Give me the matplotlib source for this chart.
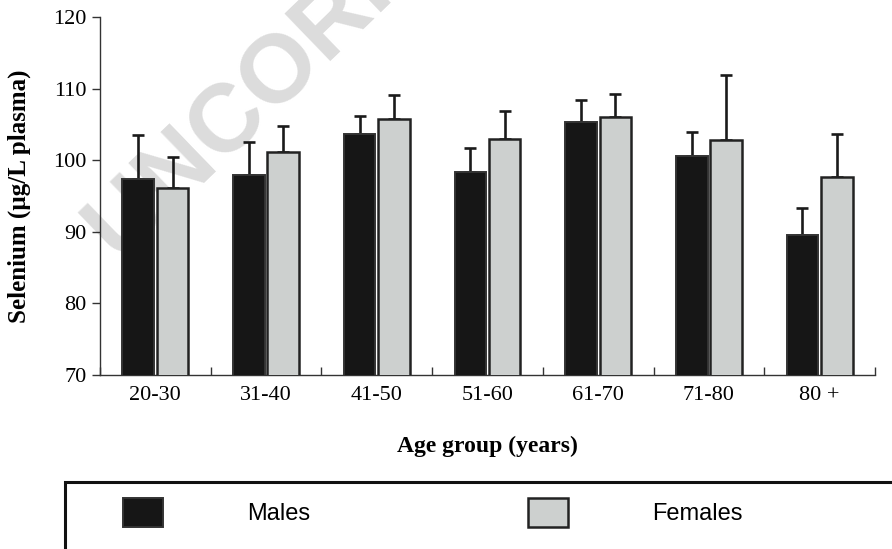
import matplotlib
matplotlib.use("Agg")
import matplotlib.pyplot as plt
import matplotlib.patches as mpatches
import numpy as np

# ---- data ----
age_groups = ["20-30", "31-40", "41-50", "51-60", "61-70", "71-80", "80 +"]
males = [97.4, 98.0, 103.6, 98.3, 105.3, 100.6, 89.5]
males_err = [6.1, 4.5, 2.6, 3.4, 3.1, 3.3, 3.8]
females = [96.1, 101.1, 105.7, 103.0, 106.0, 102.8, 97.6]
females_err = [4.3, 3.7, 3.4, 3.9, 3.2, 9.1, 6.1]
series_labels = ["Males", "Females"]
y_ticks = [70, 80, 90, 100, 110, 120]

W, H = 892, 549
fig = plt.figure(figsize=(W / 100, H / 100), dpi=100)
ax = fig.add_axes([100 / W, 1 - 375 / H, 775 / W, 358 / H])
ax.patch.set_alpha(0)

serif = "Liberation Serif"
sans = "Liberation Sans"

# watermark
fig.text(120 / W, 1 - 264 / H, "UNCORRECTED PROOF", rotation=44,
         rotation_mode="anchor", ha="left", va="baseline",
         fontsize=70, fontweight="bold", family=sans, color="#dcdcdc",
         zorder=-5)

x = np.arange(len(age_groups))
off = 0.155
bw = 0.285
edge = "#222222"
ecol = "#1a1a1a"
b1 = ax.bar(x - off, males, bw, color="#161616", edgecolor="#333333",
            linewidth=1.4, zorder=3, label=series_labels[0])
b2 = ax.bar(x + off, females, bw, color="#cdd0cf", edgecolor=edge,
            linewidth=1.8, zorder=3, label=series_labels[1])
zeros = [0] * len(x)
ax.errorbar(x - off, males, yerr=[zeros, males_err], fmt="none", ecolor=ecol,
            elinewidth=1.9, capsize=4.3, capthick=1.9, zorder=2)
ax.errorbar(x + off, females, yerr=[zeros, females_err], fmt="none", ecolor=ecol,
            elinewidth=1.9, capsize=4.3, capthick=1.9, zorder=2)

ax.set_xlim(-0.5, len(age_groups) - 0.5)
ax.set_ylim(70, 120)
ax.set_yticks(y_ticks)
ax.set_yticklabels([str(t) for t in y_ticks], family=serif, fontsize=16)

ax.set_xticks(np.arange(-0.5, len(age_groups)), minor=False)
ax.set_xticklabels([])
ax.set_xticks(x, minor=True)
ax.set_xticklabels(age_groups, minor=True, family=serif, fontsize=16)
ax.tick_params(axis="x", which="major", direction="in", length=6, width=1,
               color="#333333")
ax.tick_params(axis="x", which="minor", length=0, pad=8)
ax.tick_params(axis="y", direction="out", length=5.5, width=1, color="#333333",
               pad=4)

for s in ["top", "right"]:
    ax.spines[s].set_visible(False)
for s in ["left", "bottom"]:
    ax.spines[s].set_color("#333333")
    ax.spines[s].set_linewidth(1.0)

ax.set_ylabel("Selenium (\u00b5g/L plasma)", family=serif, fontsize=18,
              fontweight="bold")
ax.yaxis.set_label_coords((31 - 100) / 775, 0.5)
ax.set_xlabel("Age group (years)", family=serif, fontsize=17, fontweight="bold")
ax.xaxis.set_label_coords(0.5, (375 - 436) / 358)

# legend frame (extends past figure edge)
frame = mpatches.Rectangle((65 / W, -0.2), 1.0, (1 - 482 / H) + 0.2,
                           transform=fig.transFigure, fill=False,
                           linewidth=2.2, edgecolor="#111111")
fig.add_artist(frame)

fs = 17
em = fs * 100 / 72
leg = fig.legend([b1, b2], series_labels, loc="upper left",
                 bbox_to_anchor=(123 / W, 1 - 498 / H), frameon=False,
                 ncols=2, prop={"family": sans, "size": fs},
                 handlelength=40 / em, handleheight=36 / em,
                 handletextpad=84 / em, columnspacing=218 / em,
                 borderpad=0, borderaxespad=0)

fig.savefig("out.png", dpi=100)
